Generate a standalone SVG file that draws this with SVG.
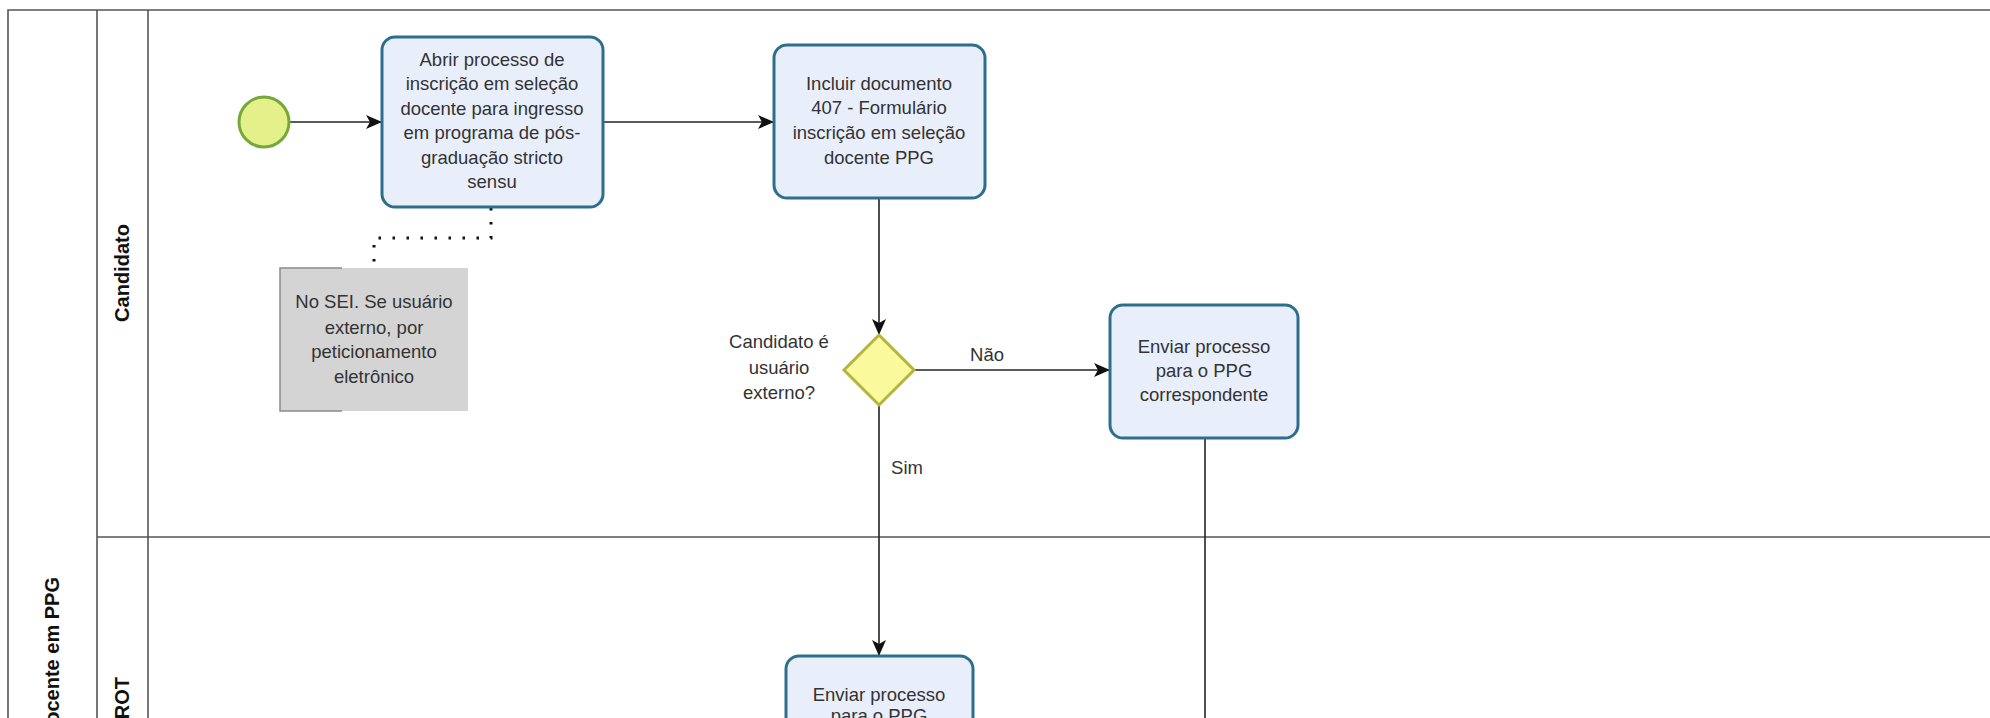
<svg xmlns="http://www.w3.org/2000/svg" width="1990" height="718" viewBox="0 0 1990 718">
<defs>
<style>
.pool{fill:none;stroke:#555;stroke-width:1.6}
.task{fill:#e9eefb;stroke:#2c6e8c;stroke-width:3}
.t{font-family:"Liberation Sans",Arial,sans-serif;font-size:18.5px;fill:#333;text-anchor:middle}
.lbl{font-family:"Liberation Sans",Arial,sans-serif;font-size:20px;font-weight:bold;fill:#111;text-anchor:middle}
.flow{fill:none;stroke:#222;stroke-width:1.6}
.assoc{fill:none;stroke:#111;stroke-width:3;stroke-dasharray:2.5 11.5}
</style>
<marker id="arr" viewBox="0 0 16 14" refX="15" refY="7" markerWidth="16" markerHeight="14" markerUnits="userSpaceOnUse" orient="auto">
<path d="M0,0 L16,7 L0,14 L4,7 Z" fill="#111"/>
</marker>
</defs>
<rect width="1990" height="718" fill="#fff"/>
<g id="pool">
<path class="pool" d="M8,730 V10 H1995"/>
<path class="pool" d="M97,10 V730"/>
<path class="pool" d="M148,10 V730"/>
<path class="pool" d="M97,537 H1995"/>
<text class="lbl" transform="translate(59,577) rotate(-90)" style="text-anchor:end">docente em PPG</text>
</g>
<g id="lane-candidato">
<text class="lbl" transform="translate(129,273) rotate(-90)">Candidato</text>
</g>
<g id="lane-prot">
<text class="lbl" transform="translate(129,677) rotate(-90)" style="text-anchor:end">PROT</text>
</g>
<g id="connectors">
<path class="flow" d="M290,122 H381" marker-end="url(#arr)"/>
<path class="flow" d="M603,122 H773" marker-end="url(#arr)"/>
<path class="flow" d="M879,198 V334" marker-end="url(#arr)"/>
<path class="flow" d="M915,370 H1109" marker-end="url(#arr)"/>
<path class="flow" d="M879,405 V655" marker-end="url(#arr)"/>
<path class="flow" d="M1205,438 V730"/>
<path class="assoc" d="M491,208 V238 H374 V268"/>
<text class="t" x="987" y="361">Não</text>
<text class="t" x="907" y="474">Sim</text>
</g>
<g id="start">
<circle cx="264" cy="122" r="25" fill="#e4f08a" stroke="#74a93a" stroke-width="3"/>
</g>
<g id="task-abrir">
<rect class="task" x="382" y="37" width="221" height="170" rx="13"/>
<text class="t" x="492" y="66">Abrir processo de</text>
<text class="t" x="492" y="90">inscrição em seleção</text>
<text class="t" x="492" y="115">docente para ingresso</text>
<text class="t" x="492" y="139">em programa de pós-</text>
<text class="t" x="492" y="164">graduação stricto</text>
<text class="t" x="492" y="188">sensu</text>
</g>
<g id="annotation">
<rect x="280" y="268" width="188" height="143" fill="#d4d4d4"/>
<path d="M342,268 H280 V411 H342" fill="none" stroke="#8a8a8a" stroke-width="1.5"/>
<text class="t" x="374" y="308">No SEI. Se usuário</text>
<text class="t" x="374" y="334">externo, por</text>
<text class="t" x="374" y="358">peticionamento</text>
<text class="t" x="374" y="383">eletrônico</text>
</g>
<g id="task-incluir">
<rect class="task" x="774" y="45" width="211" height="153" rx="13"/>
<text class="t" x="879" y="90">Incluir documento</text>
<text class="t" x="879" y="114">407 - Formulário</text>
<text class="t" x="879" y="139">inscrição em seleção</text>
<text class="t" x="879" y="164">docente PPG</text>
</g>
<g id="gateway">
<path d="M879,335 L914,370 L879,405 L844,370 Z" fill="#fafa9c" stroke="#b4b43e" stroke-width="3"/>
<text class="t" x="779" y="348">Candidato é</text>
<text class="t" x="779" y="374">usuário</text>
<text class="t" x="779" y="399">externo?</text>
</g>
<g id="task-enviar-ppg">
<rect class="task" x="1110" y="305" width="188" height="133" rx="13"/>
<text class="t" x="1204" y="353">Enviar processo</text>
<text class="t" x="1204" y="377">para o PPG</text>
<text class="t" x="1204" y="401">correspondente</text>
</g>
<g id="task-enviar-prot">
<rect class="task" x="786" y="656" width="187" height="133" rx="13"/>
<text class="t" x="879" y="701">Enviar processo</text>
<text class="t" x="879" y="722">para o PPG</text>
</g>
</svg>
